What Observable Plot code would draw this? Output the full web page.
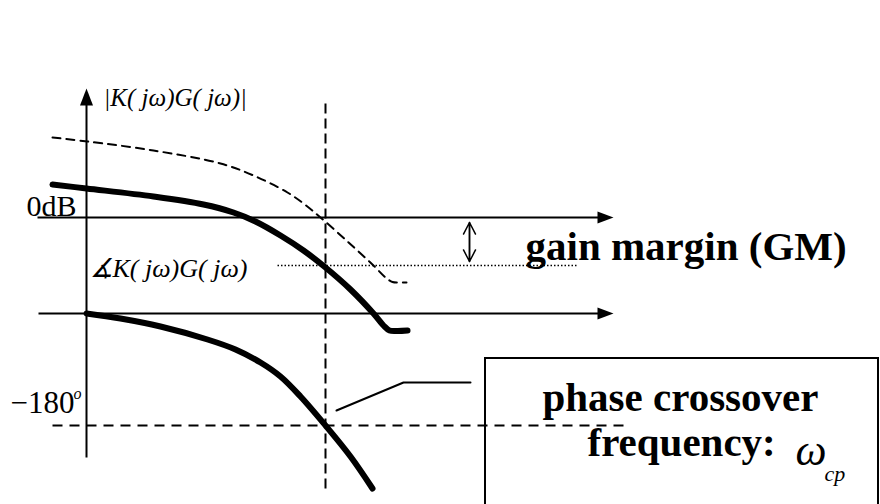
<!DOCTYPE html>
<html><head><meta charset="utf-8">
<script src="https://cdn.jsdelivr.net/npm/d3@7"></script>
<script src="https://cdn.jsdelivr.net/npm/@observablehq/plot@0.6"></script>
<style>html,body{margin:0;padding:0;background:#fff;overflow:hidden}</style>
</head><body><div id="chart"></div>
<script>
// Schematic Bode diagram, values in diagram units (x: frequency position, y: level, downward)
const magOmega   = [52, 86, 153, 203, 233, 255, 280, 303, 325, 350, 373, 383, 389, 397, 407];
const magLevel   = [184, 188, 196, 204, 212, 221, 235, 250, 267, 289, 313, 325, 330, 330.5, 330];
const magDOmega  = [52, 87, 153, 220, 253, 287, 303, 320, 347, 373, 385, 392, 398, 406];
const magDLevel  = [137, 141, 150, 163, 175, 192, 203, 217, 241, 265, 277, 281.5, 282, 282];
const phOmega    = [86, 120, 160, 207, 235, 260, 280, 300, 325, 350, 372];
const phLevel    = [313, 318, 326, 339, 349, 362, 376, 396, 425, 456, 488];

const zeroDbLevel = 217;      // 0 dB magnitude axis
const zeroPhLevel = 313;      // 0° phase axis
const m180Level   = 425;      // -180° phase
const gmLevel     = 265;      // magnitude at ω_cp
const omegaCp     = 325;      // phase crossover frequency
const axisOmega   = 86;       // vertical axis
const axisStart   = [37, 38]; // left ends of the horizontal axes
const axisEnd     = 613;      // arrow tips
const vAxisTop    = 88, vAxisBottom = 457;
const leaderOmega = [336, 403, 470];
const leaderLevel = [410, 382, 382];
const boxX = [485, 878], boxY = [358, 530];

const labelText = ["|K( jω)G( jω)|", "∡K( jω)G( jω)", "0dB", "−180", "o",
  "gain margin (GM)", "phase crossover", "frequency:", "ω", "cp"];
const labelX = [103, 89, 26, 10, 73, 525, 542, 587, 795, 824];
const labelY = [105, 276, 215, 412, 398, 259, 410, 455, 464, 480];

const mag = magOmega.map((x, i) => ({x, y: magLevel[i]}));
const magD = magDOmega.map((x, i) => ({x, y: magDLevel[i]}));
const ph = phOmega.map((x, i) => ({x, y: phLevel[i]}));
const leader = leaderOmega.map((x, i) => ({x, y: leaderLevel[i]}));
const labels = labelText.map((t, i) => ({t, x: labelX[i], y: labelY[i]}));

const hAxes = [
  {x1: axisStart[0], x2: axisEnd - 12, y: zeroDbLevel},
  {x1: axisStart[1], x2: axisEnd - 12, y: zeroPhLevel}
];
const heads = [];
[zeroDbLevel, zeroPhLevel].forEach((y, k) => {
  heads.push({id: k, x: axisEnd, y}, {id: k, x: axisEnd - 16, y: y - 6}, {id: k, x: axisEnd - 16, y: y + 6});
});
heads.push({id: 9, x: axisOmega, y: vAxisTop}, {id: 9, x: axisOmega - 6.5, y: vAxisTop + 17}, {id: 9, x: axisOmega + 6.5, y: vAxisTop + 17});

const serif = "Liberation Serif";
const lbl = (i) => [labels[i]];
const txt = (i, o) => Plot.text(lbl(i), {x: "x", y: "y", text: "t", textAnchor: "start", lineAnchor: "bottom", fontFamily: serif, fill: "black", ...o});

const chart = Plot.plot({
  width: 880, height: 504, margin: 0,
  x: {domain: [0, 880], range: [0, 880], axis: null},
  y: {domain: [0, 504], range: [0, 504], axis: null},
  marks: [
    Plot.rect([{}], {x1: boxX[0], x2: boxX[1], y1: boxY[0], y2: boxY[1], fill: "none", stroke: "black", strokeWidth: 2}),
    // guides
    Plot.link([{}], {x1: omegaCp, x2: omegaCp, y1: 103, y2: 490, stroke: "black", strokeWidth: 2, strokeDasharray: "10,5"}),
    Plot.link([{}], {x1: 52, x2: 630, y1: m180Level, y2: m180Level, stroke: "black", strokeWidth: 2, strokeDasharray: "10,7"}),
    Plot.link([{}], {x1: 277, x2: 578, y1: gmLevel, y2: gmLevel, stroke: "black", strokeWidth: 1.5, strokeDasharray: "1.5,2"}),
    // axes
    Plot.link(hAxes, {x1: "x1", x2: "x2", y1: "y", y2: "y", stroke: "black", strokeWidth: 2}),
    Plot.link([{}], {x1: axisOmega, x2: axisOmega, y1: vAxisBottom, y2: vAxisTop + 10, stroke: "black", strokeWidth: 2}),
    Plot.line(heads, {x: "x", y: "y", z: "id", fill: "black", stroke: "none"}),
    // gain margin arrow
    Plot.arrow([{a: 261, b: 222}, {a: 222, b: 261}], {x1: 469, x2: 469, y1: "a", y2: "b", stroke: "black", strokeWidth: 1.5, headLength: 13, headAngle: 55}),
    // curves
    Plot.line(magD, {x: "x", y: "y", curve: "catmull-rom", stroke: "black", strokeWidth: 2, strokeDasharray: "8,6"}),
    Plot.line(mag, {x: "x", y: "y", curve: "catmull-rom", stroke: "black", strokeWidth: 6, strokeLinejoin: "round"}),
    Plot.line(ph, {x: "x", y: "y", curve: "catmull-rom", stroke: "black", strokeWidth: 6}),
    Plot.line(leader, {x: "x", y: "y", stroke: "black", strokeWidth: 2}),
    // text
    txt(0, {fontStyle: "italic", fontSize: 25}),
    txt(1, {fontStyle: "italic", fontSize: 26}),
    txt(2, {fontSize: 30}),
    txt(3, {fontSize: 31}),
    txt(4, {fontStyle: "italic", fontSize: 16}),
    txt(5, {fontWeight: "bold", fontSize: 41}),
    txt(6, {fontWeight: "bold", fontSize: 41}),
    txt(7, {fontWeight: "bold", fontSize: 41}),
    txt(8, {fontStyle: "italic", fontSize: 44}),
    txt(9, {fontStyle: "italic", fontSize: 22})
  ]
});
document.getElementById("chart").appendChild(chart);
</script>
</body></html>
